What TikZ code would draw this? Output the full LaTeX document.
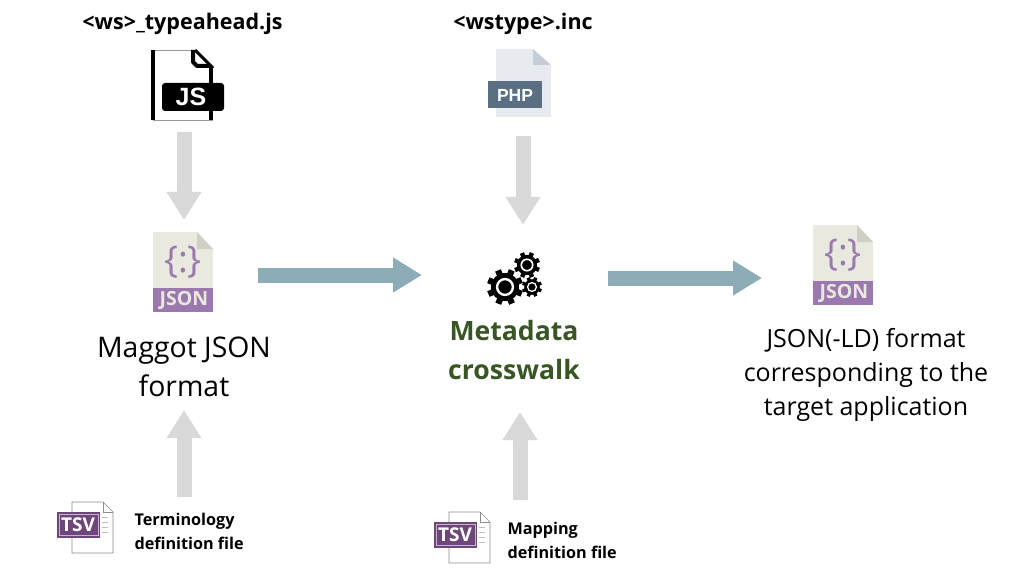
\documentclass[tikz,border=0pt]{standalone}
\usepackage{fontspec}
\setmainfont{Open Sans}
\newfontfamily\tagfont{Liberation Sans}
\usetikzlibrary{arrows.meta,positioning}

\definecolor{arrowgray}{HTML}{D9D9D9}
\definecolor{arrowteal}{HTML}{8CADB8}
\definecolor{crosswalkgreen}{HTML}{375623}
\definecolor{jsonpurple}{HTML}{9B79AE}
\definecolor{jsonpaper}{HTML}{E9E9E0}
\definecolor{jsonfold}{HTML}{CFCFC4}
\definecolor{phpslate}{HTML}{5B6F82}
\definecolor{phppaper}{HTML}{E7EAEF}
\definecolor{phpfold}{HTML}{C5CDD6}
\definecolor{tsvplum}{HTML}{6F4679}

\tikzset{
  iconbox/.style={inner sep=0pt, outer sep=0pt, minimum width=#1},
  feedarrow/.style={draw=arrowgray, line width=15pt, -{Triangle[width=33pt,length=28pt]}},
  flowarrow/.style={draw=arrowteal, line width=15pt, -{Triangle[width=33pt,length=29pt]}},
  filetitle/.style={font=\fontsize{21.5}{26}\selectfont\bfseries},
  bigtext/.style={font=\fontsize{25}{34}\selectfont, align=center},
  smalltext/.style={font=\fontsize{16.2}{24}\selectfont\bfseries, align=left}
}

% #1 node prefix, #2 #3 shift
\newcommand{\jsonicon}[3]{
\begin{scope}[shift={(#2,#3)}]
\fill[jsonpaper] (153,232) -- (197,232) -- (213,249) -- (213,288) -- (153,288) -- cycle;
\fill[jsonfold] (197,232) -- (213,249) -- (197,249) -- cycle;
\fill[jsonpurple] (153,288) rectangle (213,312);
\node (#1tag) [text=jsonpaper, font=\fontsize{19.5}{20}\selectfont\bfseries] at (184,300) {JSON};
\node (#1brace) [text=jsonpurple, font=\fontsize{37}{37}\selectfont] at (183,262) {\{:\}};
\end{scope}
}
\newcommand{\tsvicon}[3]{
\begin{scope}[shift={(#2,#3)}]
\fill[white] (72,502) -- (103,502) -- (113,512) -- (113,553) -- (72,553) -- cycle;
\draw[black!45, line width=0.7pt] (72,502) -- (103,502) -- (113,512) -- (113,553) -- (72,553) -- cycle;
\draw[black!45, line width=0.7pt] (103,502) -- (103,512) -- (113,512);
\foreach \y in {517, 522, ..., 532}{
\draw[black!25, line width=1pt] (102,\y) -- (108,\y);
}
\fill[tsvplum] (57,512) rectangle (100,538);
\draw[white!60!tsvplum, line width=0.7pt] (59,514.5) rectangle (98,535.5);
\node (#1tag) [text=white, font=\fontsize{19}{19}\selectfont\bfseries, inner sep=0pt] at (78,525) {TSV};
\end{scope}
}
% #1 x, #2 y, #3 radius
\newcommand{\gearicon}[3]{
\fill[black] (#1,#2) circle (#3*0.78);
\foreach \a in {0, 45, ..., 315}{
\draw[black, line width=#3*0.34] (#1,#2) ++(\a+22:#3*0.7) -- ++(\a+22:#3*0.3);
}
\draw[white, line width=#3*0.13] (#1,#2) circle (#3*0.44);
}

\begin{document}
\begin{tikzpicture}[x=1pt,y=-1pt]
\useasboundingbox (0,0) rectangle (1025,580);

% file names on top
\node (jstitle) [filetitle] at (182.5,24) {<ws>\_typeahead.js};
\node (phptitle) [filetitle] at (523,24) {<wstype>.inc};

% boxes holding the icons
\node (jsfile) [iconbox=80pt, minimum height=70pt] at (184,85) {};
\node (phpfile) [iconbox=70pt, minimum height=68pt] at (523,83) {};
\node (jsonin) [iconbox=62pt, minimum height=86pt] at (184,275) {};
\node (gears) [iconbox=170pt, minimum height=50pt] at (523,278) {};
\node (jsonout) [iconbox=62pt, minimum height=106pt] at (844,278) {};
\node (tsvterm) [iconbox=56pt, minimum height=51pt] at (85,527.5) {};
\node (tsvmap) [iconbox=56pt, minimum height=51pt] at (462,537.5) {};
\coordinate (maggotend) at (184,410);
\coordinate (crosswalkend) at (520,412);

% js icon
\draw[black!40, line width=0.7pt] (153,50) -- (195,50);
\draw[black!40, line width=0.7pt] (153,120) -- (213,120);
\draw[black, line width=4pt] (153,50) -- (153,120);
\draw[black, line width=4pt, line join=round] (193,50) -- (193,62) -- (197,66) -- (211,66);
\draw[black, line width=3pt] (195,50) -- (213,68);
\draw[black, line width=4pt] (211,66) -- (211,120);
\fill[black, rounded corners=3pt] (162,83) rectangle (224,111);
\node (jstag) [text=white, font=\tagfont\fontsize{25}{25}\selectfont\bfseries] at (191,97) {JS};

% php icon
\fill[phppaper] (496,49) -- (533,49) -- (551,65) -- (551,117) -- (496,117) -- cycle;
\fill[phpfold] (533,49) -- (551,65) -- (533,65) -- cycle;
\fill[phpslate] (488,81) rectangle (542,108);
\node (phptag) [text=white, font=\tagfont\fontsize{17.5}{18}\selectfont\bfseries] at (515,95) {PHP};

\jsonicon{jsona}{0}{0}
\jsonicon{jsonb}{660}{-7}

% gears
\gearicon{505}{287}{18}
\gearicon{527}{265}{13}
\gearicon{532}{287}{10}

\tsvicon{tsva}{0}{0}
\tsvicon{tsvb}{377}{10}

% labels
\node (maggot) [bigtext, font=\fontsize{28.4}{39}\selectfont] at (184,366.5) {Maggot JSON\\format};
\node (crosswalk) [bigtext, font=\fontsize{26.6}{39}\selectfont\bfseries, text=crosswalkgreen] at (514,350.5) {Metadata\\crosswalk};
\node (target) [bigtext] at (866,375) {JSON(-LD) format\\corresponding to the\\target application};
\node (termtext) [smalltext, anchor=west] at (131,531) {Terminology\\definition file};
\node (maptext) [smalltext, anchor=west] at (504,540) {Mapping\\definition file};

% arrows
\draw[feedarrow, shorten <=12pt, shorten >=12pt] (jsfile) -- (jsonin);
\draw[feedarrow, shorten <=19pt, shorten >=28pt] (phpfile.south) -- (gears.north);
\draw[feedarrow, shorten <=5pt] (maggotend |- tsvterm.north) -- (maggotend);
\draw[feedarrow, shorten <=12pt] (crosswalkend |- tsvmap.north) -- (crosswalkend);
\draw[flowarrow, shorten <=43pt, shorten >=16pt] (jsonin.east) -- (gears.west |- jsonin.east);
\draw[flowarrow, shorten >=51pt] (gears.east |- jsonout.west) -- (jsonout.west);

\end{tikzpicture}
\end{document}
